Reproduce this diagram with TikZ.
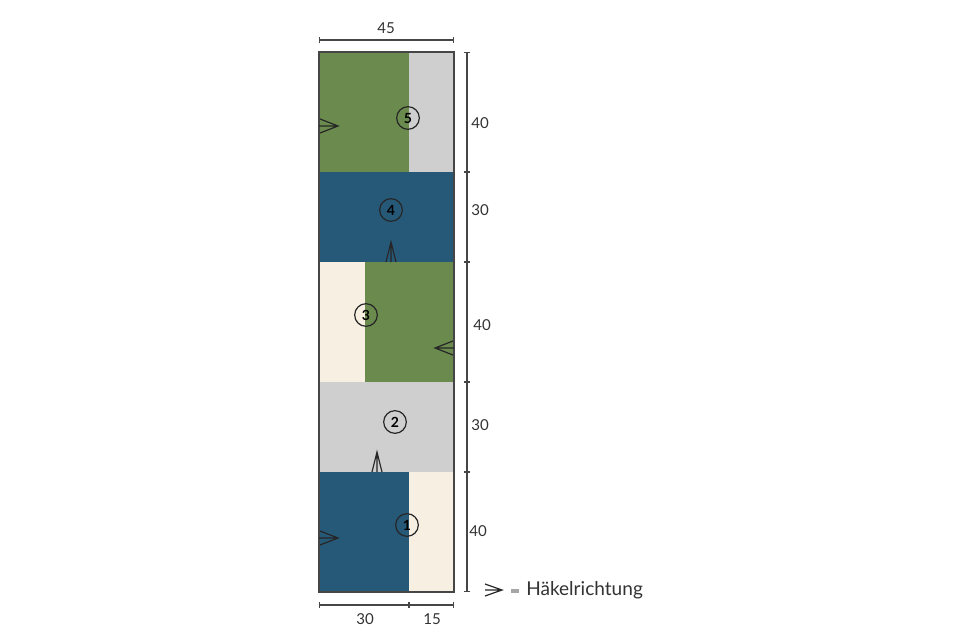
\documentclass[tikz,border=0pt]{standalone}
\usepackage{fontspec}
\setmainfont{Lato}
\usetikzlibrary{arrows.meta}
\definecolor{hgreen}{RGB}{107,139,78}
\definecolor{hblue}{RGB}{38,89,120}
\definecolor{hgrey}{RGB}{207,207,207}
\definecolor{hcream}{RGB}{246,239,226}
\definecolor{hline}{RGB}{70,70,70}
\tikzset{
  numcirc/.style={draw=black!85,circle,line width=0.9pt,inner sep=0pt,minimum size=17pt,font=\fontsize{10.5}{11}\selectfont\bfseries},
  dimlab/.style={inner sep=0.75pt,font=\fontsize{11.3}{13}\selectfont,text=black!80},
  dimline/.style={draw=hline,line width=0.9pt,{Bar[width=5pt]}-{Bar[width=5pt]}},
  hookdir/.style={draw=black!85,line width=0.9pt,line join=miter}
}
\begin{document}
\begin{tikzpicture}[x=0.75pt,y=0.75pt,yscale=-1,xscale=1]
\path[use as bounding box,fill=white] (0,0) rectangle (960,639);

%Shape: Rectangle [stripe 5]
\fill[hgreen] (319,52) rectangle (409,172);
\fill[hgrey] (409,52) rectangle (454,172);
%Shape: Rectangle [stripe 4]
\fill[hblue] (319,172) rectangle (454,262);
%Shape: Rectangle [stripe 3]
\fill[hcream] (319,262) rectangle (365,382);
\fill[hgreen] (365,262) rectangle (454,382);
%Shape: Rectangle [stripe 2]
\fill[hgrey] (319,382) rectangle (454,472);
%Shape: Rectangle [stripe 1]
\fill[hblue] (319,472) rectangle (409,592);
\fill[hcream] (409,472) rectangle (454,592);
%Shape: Rectangle [outline]
\draw[hline,line width=0.9pt] (319,52) rectangle (454,592);

%Corners for the measures
\coordinate (topL) at (319,40);
\coordinate (topR) at (454,40);
\coordinate (botL) at (319,605);
\coordinate (botM) at (409,605);
\coordinate (botR) at (454,605);
\coordinate (r0) at (467,52);
\coordinate (r1) at (467,172);
\coordinate (r2) at (467,262);
\coordinate (r3) at (467,382);
\coordinate (r4) at (467,472);
\coordinate (r5) at (467,592);

%Straight Lines [measures]
\draw[dimline] (topL) -- (topR);
\draw[dimline] (botL) -- (botM);
\draw[dimline] (botM) -- (botR);
\draw[dimline] (r0) -- (r1);
\draw[dimline] (r1) -- (r2);
\draw[dimline] (r2) -- (r3);
\draw[dimline] (r3) -- (r4);
\draw[dimline] (r4) -- (r5);

%Hook direction marks
\draw[hookdir] (320,119) -- (338,126) -- (320,133) (319,126) -- (338,126);
\draw[hookdir] (386,262) -- (391,242) -- (396,262) (391,262) -- (391,242);
\draw[hookdir] (453,341) -- (435,348) -- (453,355) (454,348) -- (435,348);
\draw[hookdir] (372,472) -- (377,452) -- (382,472) (377,472) -- (377,452);
\draw[hookdir] (320,531) -- (338,538) -- (320,545) (319,538) -- (338,538);
\draw[hookdir] (485,584) -- (502,590) -- (485,596) (485,590) -- (502,590);
\draw[black!35,line width=3pt] (511,591) -- (519,591);

% Number circles
\node[numcirc] (c5) at (408,118) {5};
\node[numcirc] (c4) at (391,210) {4};
\node[numcirc] (c3) at (366,315) {3};
\node[numcirc] (c2) at (395,422) {2};
\node[numcirc] (c1) at (407,525) {1};

% Text Node
\node[dimlab] (w45) at (386,28) {45};
\node[dimlab] (w30) at (365,619) {30};
\node[dimlab] (w15) at (432,619) {15};
\node[dimlab,anchor=west] (h5) at (470,123) {40};
\node[dimlab,anchor=west] (h4) at (470,210) {30};
\node[dimlab,anchor=west] (h3) at (472,325) {40};
\node[dimlab,anchor=west] (h2) at (470,425) {30};
\node[dimlab,anchor=west] (h1) at (468,531) {40};
\node[inner sep=0.75pt,anchor=west,font=\fontsize{14.3}{16}\selectfont,text=black!80] (leg) at (525,590) {Häkelrichtung};
\end{tikzpicture}
\end{document}
